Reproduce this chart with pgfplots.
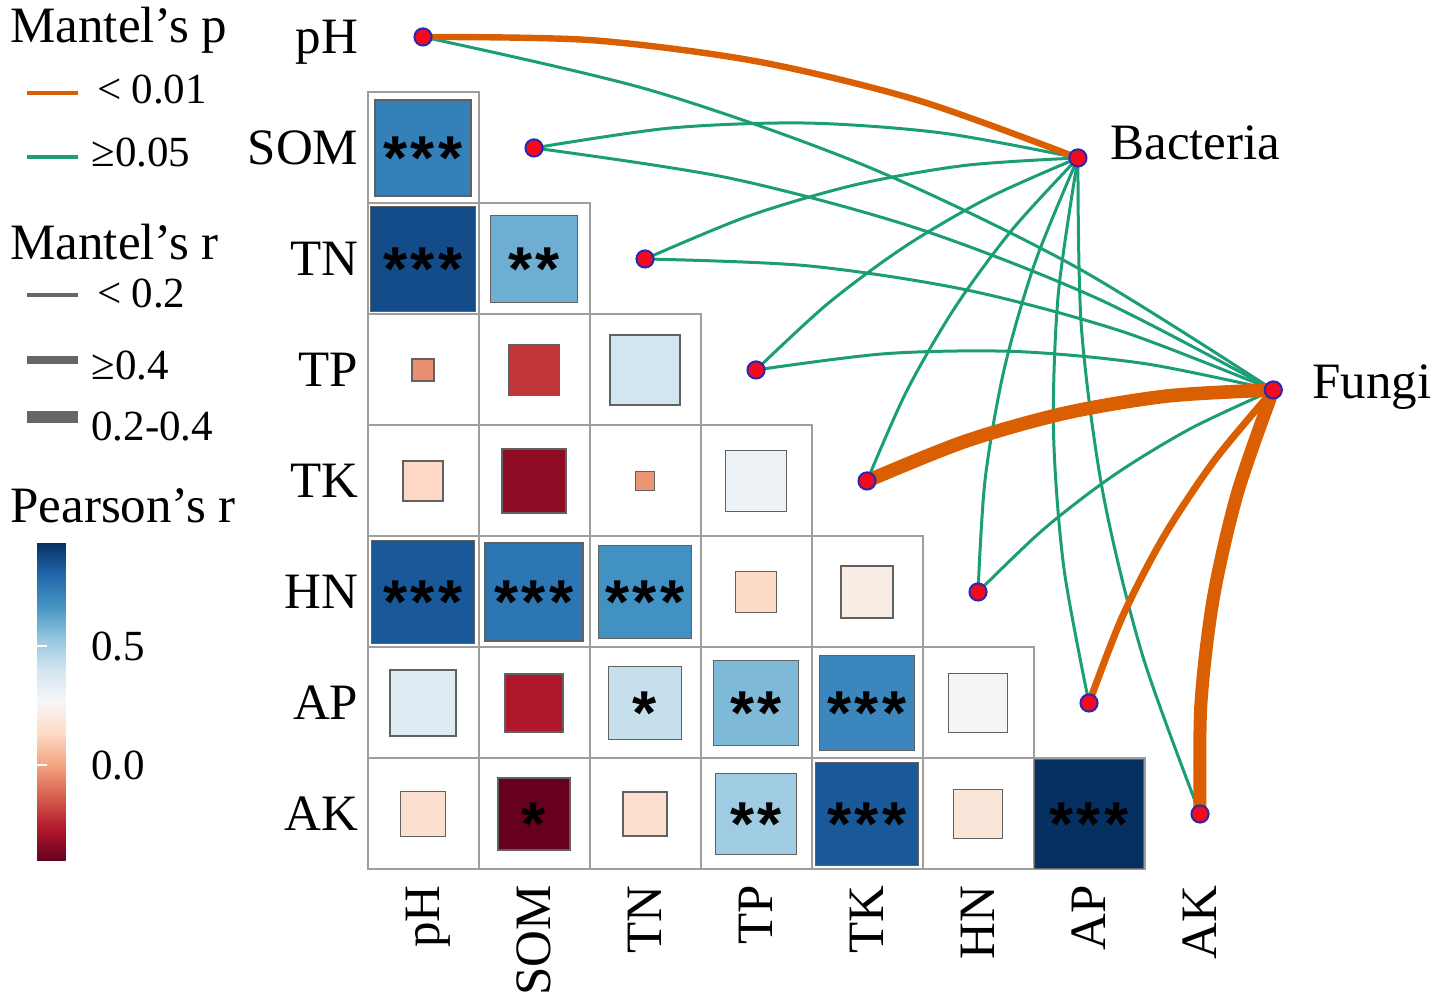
\documentclass[border=0pt]{standalone}
\usepackage{fontspec}
\setmainfont{Liberation Serif}
\newfontfamily\starfont{Liberation Sans}
\usepackage{pgfplots}
\pgfplotsset{compat=1.18}
\pgfplotsset{colormap={rdbu}{rgb255=(103,0,31) rgb255=(178,24,43) rgb255=(214,96,77) rgb255=(244,165,130) rgb255=(253,219,199) rgb255=(247,247,247) rgb255=(209,229,240) rgb255=(146,197,222) rgb255=(67,147,195) rgb255=(33,102,172) rgb255=(5,48,97)}}
\definecolor{morange}{HTML}{D95F02}
\definecolor{mgreen}{HTML}{1B9E77}
\definecolor{nodeblue}{HTML}{2828B4}
\definecolor{nodered}{HTML}{F40A1C}
\definecolor{leggray}{HTML}{666666}
\newcommand\lab{\fontsize{25.5}{30}\selectfont}
\newcommand\num{\fontsize{21.5}{26}\selectfont}
\newcommand\sk{\kern1.6pt}
\newcommand\stars[3]{\node[anchor=base, inner sep=0pt] at (axis cs:#1,-#2-0.28) {\starfont\bfseries\fontsize{31}{31}\selectfont #3};}
\begin{document}
\begin{tikzpicture}
\begin{axis}[
  set layers,
  at={(0,0)}, anchor=south west,
  scale only axis, width=720.5pt, height=500.5pt,
  xmin=-3.811, xmax=9.171, ymin=-8.685, ymax=0.333,
  axis line style={draw=none}, xtick=\empty, ytick=\empty,
  clip=false,
  colormap name=rdbu, point meta min=-0.40, point meta max=0.94,
  colorbar,
  colorbar style={
    at={(parent axis.south west)}, anchor=south west,
    xshift=10pt, yshift=70.5pt,
    scale only axis, width=32pt, height=159pt,
    axis line style={draw=none},
    ytick={0,0.5}, tick pos=both, yticklabel pos=right,
    tick align=inside, major tick length=5pt,
    ytick style={draw=white, line width=1pt},
    yticklabel style={font=\num, xshift=-8.5pt,
      /pgf/number format/.cd, fixed, fixed zerofill, precision=1, assume math mode=true},
  },
]
% grid cells
\addplot[only marks, mark=square, mark size=27.75pt, mark options={draw=black!38, line width=1pt}] coordinates {
(0,-1)
(0,-2) (1,-2)
(0,-3) (1,-3) (2,-3)
(0,-4) (1,-4) (2,-4) (3,-4)
(0,-5) (1,-5) (2,-5) (3,-5) (4,-5)
(0,-6) (1,-6) (2,-6) (3,-6) (4,-6) (5,-6)
(0,-7) (1,-7) (2,-7) (3,-7) (4,-7) (5,-7) (6,-7)
};
% correlation squares
\addplot[scatter, only marks, mark=square*, scatter src=explicit,
  scatter/use mapped color={draw=black!62, fill=mapped color},
  visualization depends on={\thisrow{s} \as \sz},
  scatter/@pre marker code/.append style={/tikz/mark size=\sz pt},
  mark options={line width=0.9pt}]
  table[x=c, y=r, meta=v] {
c r v s
0 -1 0.73 24.0
0 -2 0.87 26.25
1 -2 0.60 21.75
0 -3 -0.04 5.5
1 -3 -0.21 12.75
2 -3 0.40 17.5
0 -4 0.13 10.0
1 -4 -0.33 16.0
2 -4 -0.03 4.75
3 -4 0.31 15.25
0 -5 0.84 25.75
1 -5 0.76 24.5
2 -5 0.68 23.25
3 -5 0.135 10.25
4 -5 0.22 13.0
0 -6 0.36 16.5
1 -6 -0.27 14.5
2 -6 0.43 18.25
3 -6 0.57 21.25
4 -6 0.71 23.75
5 -6 0.28 14.75
0 -7 0.16 11.25
1 -7 -0.40 18.0
2 -7 0.155 11.0
3 -7 0.51 20.25
4 -7 0.84 25.75
5 -7 0.19 12.25
6 -7 0.94 27.25
};
% green links (p >= 0.05)
\addplot[mgreen, line width=1.5pt, smooth, no markers] coordinates {(1,-1) (2.229,-0.8204) (3.455,-0.7755) (4.679,-0.8654) (5.90,-1.09)};
\addplot[mgreen, line width=1.5pt, smooth, no markers] coordinates {(2,-2) (2.9375,-1.6116) (3.900,-1.3305) (4.8875,-1.1566) (5.90,-1.09)};
\addplot[mgreen, line width=1.5pt, smooth, no markers] coordinates {(3,-3) (3.646,-2.4029) (4.345,-1.8855) (5.096,-1.4479) (5.90,-1.09)};
\addplot[mgreen, line width=1.5pt, smooth, no markers] coordinates {(4,-4) (4.355,-3.1941) (4.790,-2.4405) (5.305,-1.7391) (5.90,-1.09)};
\addplot[mgreen, line width=1.5pt, smooth, no markers] coordinates {(5,-5) (5.064,-3.9854) (5.235,-2.9955) (5.514,-2.0304) (5.90,-1.09)};
\addplot[mgreen, line width=1.5pt, smooth, no markers] coordinates {(6,-6) (5.7725,-4.7766) (5.680,-3.5505) (5.7225,-2.3216) (5.90,-1.09)};
\addplot[mgreen, line width=1.5pt, smooth, no markers] coordinates {(7,-7) (6.481,-5.5679) (6.125,-4.1055) (5.931,-2.6129) (5.90,-1.09)};
\addplot[mgreen, line width=1.5pt, smooth, no markers] coordinates {(0,0) (2.046,-0.479) (4.005,-1.1687) (5.876,-2.069) (7.66,-3.18)};
\addplot[mgreen, line width=1.5pt, smooth, no markers] coordinates {(1,-1) (2.755,-1.2703) (4.450,-1.7237) (6.085,-2.3603) (7.66,-3.18)};
\addplot[mgreen, line width=1.5pt, smooth, no markers] coordinates {(2,-2) (3.4637,-2.0615) (4.895,-2.2787) (6.2937,-2.6515) (7.66,-3.18)};
\addplot[mgreen, line width=1.5pt, smooth, no markers] coordinates {(3,-3) (4.1724,-2.8528) (5.340,-2.8337) (6.5024,-2.9428) (7.66,-3.18)};
\addplot[mgreen, line width=1.5pt, smooth, no markers] coordinates {(5,-5) (5.5899,-4.4353) (6.230,-3.9437) (6.9199,-3.5253) (7.66,-3.18)};
% orange links (p < 0.01)
\addplot[morange, line width=3.2pt, smooth, no markers] coordinates {(0,0) (1.520,-0.0291) (3.010,-0.2205) (4.470,-0.5741) (5.90,-1.09)};
\addplot[morange, line width=6.8pt, smooth, no markers] coordinates {(4,-4) (4.8812,-3.644) (5.785,-3.3887) (6.7112,-3.234) (7.66,-3.18)};
\addplot[morange, line width=3.5pt, smooth, no markers] coordinates {(6,-6) (6.2987,-5.2265) (6.675,-4.4987) (7.1287,-3.8165) (7.66,-3.18)};
\addplot[morange, line width=6.5pt, smooth, no markers] coordinates {(7,-7) (7.0074,-6.0178) (7.120,-5.0537) (7.3374,-4.1078) (7.66,-3.18)};
% nodes
\addplot[only marks, mark=*, mark size=4.3pt, mark options={fill=nodered, draw=nodeblue, line width=1pt}] coordinates {
(0,0) (1,-1) (2,-2) (3,-3) (4,-4) (5,-5) (6,-6) (7,-7) (5.90,-1.09) (7.66,-3.18)};
\begin{pgfonlayer}{axis foreground}
\stars{0}{1}{*\sk*\sk*}
\stars{0}{2}{*\sk*\sk*}
\stars{1}{2}{*\sk*}
\stars{0}{5}{*\sk*\sk*}
\stars{1}{5}{*\sk*\sk*}
\stars{2}{5}{*\sk*\sk*}
\stars{2}{6}{*}
\stars{3}{6}{*\sk*}
\stars{4}{6}{*\sk*\sk*}
\stars{1}{7}{*}
\stars{3}{7}{*\sk*}
\stars{4}{7}{*\sk*\sk*}
\stars{6}{7}{*\sk*\sk*}
\end{pgfonlayer}
% row labels
\foreach \n/\r in {pH/0, SOM/1, TN/2, TP/3, TK/4, HN/5, AP/6, AK/7} {
  \edef\tmp{\noexpand\node[anchor=base east, inner sep=0pt, font=\noexpand\lab] at (axis cs:-0.58,-\r-0.152) {\n};}\tmp
}
% column labels
\foreach \n/\c in {pH/0, SOM/1, TN/2, TP/3, TK/4, HN/5, AP/6, AK/7} {
  \edef\tmp{\noexpand\node[anchor=base east, rotate=90, inner sep=0pt, font=\noexpand\lab] at (axis cs:\c+0.152,-7.64) {\n};}\tmp
}
\node[anchor=base west, inner sep=0pt, font=\lab] at (axis cs:6.189,-1.104) {Bacteria};
\node[anchor=base west, inner sep=0pt, font=\lab] at (axis cs:8.009,-3.257) {Fungi};
% legend
\node[anchor=base west, inner sep=0pt, font=\lab] at (axis cs:-3.721,-0.054) {Mantel’s p};
\addplot[morange, line width=1.7pt, no markers] coordinates {(-3.568,-0.505) (-3.108,-0.505)};
\node[anchor=base west, inner sep=0pt, font=\num] at (axis cs:-2.937,-0.595) {<\kern5pt0.01};
\addplot[mgreen, line width=1.7pt, no markers] coordinates {(-3.568,-1.081) (-3.108,-1.081)};
\node[anchor=base west, inner sep=0pt, font=\num] at (axis cs:-2.991,-1.171) {≥0.05};
\node[anchor=base west, inner sep=0pt, font=\lab] at (axis cs:-3.721,-2.009) {Mantel’s r};
\addplot[leggray, line width=1.7pt, no markers] coordinates {(-3.568,-2.324) (-3.108,-2.324)};
\node[anchor=base west, inner sep=0pt, font=\num] at (axis cs:-2.937,-2.441) {<\kern5pt0.2};
\addplot[leggray, line width=4pt, no markers] coordinates {(-3.568,-2.910) (-3.108,-2.910)};
\node[anchor=base west, inner sep=0pt, font=\num] at (axis cs:-2.991,-3.09) {≥0.4};
\addplot[leggray, line width=6pt, no markers] coordinates {(-3.568,-3.423) (-3.108,-3.423)};
\node[anchor=base west, inner sep=0pt, font=\num] at (axis cs:-2.991,-3.631) {0.2-0.4};
\node[anchor=base west, inner sep=0pt, font=\lab] at (axis cs:-3.721,-4.378) {Pearson’s r};
\end{axis}
\end{tikzpicture}
\end{document}
